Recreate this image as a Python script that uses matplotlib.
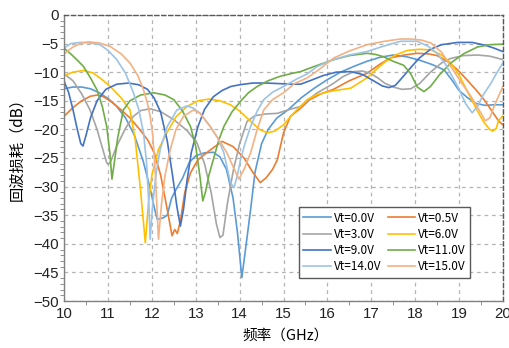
import matplotlib
matplotlib.use("Agg")
import matplotlib.pyplot as plt
from matplotlib.ticker import MultipleLocator

# return loss traces, frequency in GHz and S11 in dB
f_00 = [10.0, 10.2, 10.4, 10.6, 10.8, 11.0, 11.2, 11.4, 11.6, 11.8, 11.95, 12.05, 12.12, 12.25, 12.35, 12.45, 12.55, 12.7, 12.85, 13.0, 13.2, 13.4, 13.55, 13.7, 13.85, 13.95, 14.05, 14.15, 14.25, 14.35, 14.5, 14.65, 14.85, 15.1, 15.4, 15.7, 16.0, 16.3, 16.6, 16.9, 17.2, 17.5, 17.8, 18.1, 18.4, 18.66, 18.85, 19.0, 19.2, 19.4, 19.6, 19.8, 20.0]
s_00 = [-12.9, -12.6, -12.6, -12.9, -13.6, -14.6, -16.0, -18.0, -21.0, -25.5, -30, -33.5, -35.7, -35.5, -35.0, -32, -30.5, -28.5, -25.8, -24.6, -24.1, -24.0, -24.8, -27, -32, -38, -45.9, -40, -34, -27.5, -22.5, -20, -18, -16.6, -14.5, -12.8, -11.3, -10, -9, -8.1, -7.4, -7.0, -7.3, -7.9, -8.7, -9.6, -11.5, -13.2, -14.5, -15.5, -15.8, -15.7, -15.7]

f_05 = [10.0, 10.2, 10.4, 10.6, 10.75, 10.9, 11.1, 11.3, 11.5, 11.7, 11.9, 12.05, 12.2, 12.35, 12.46, 12.52, 12.58, 12.65, 12.75, 12.88, 13.05, 13.33, 13.6, 13.85, 14.1, 14.3, 14.47, 14.6, 14.75, 14.86, 15.0, 15.16, 15.39, 15.6, 15.85, 16.14, 16.5, 16.9, 17.2, 17.44, 17.75, 18.05, 18.3, 18.5, 18.75, 18.97, 19.2, 19.4, 19.57, 19.75, 19.9, 20.0]
s_05 = [-17.7, -16.2, -15.0, -14.2, -14.0, -14.3, -15.3, -16.6, -18.0, -19.8, -21.8, -24, -28, -34, -38.6, -37.5, -38.2, -36, -31, -27.6, -25.3, -23.6, -22.1, -23, -25, -27.5, -29.3, -28.5, -27, -25.3, -20.6, -17.7, -16.3, -14.8, -13.8, -13.0, -11.5, -10.2, -8.6, -7.5, -7.0, -6.7, -6.8, -7.1, -8.2, -9.6, -11.5, -13.2, -14.8, -16.8, -18.5, -19.2]

f_30 = [10.0, 10.2, 10.4, 10.59, 10.75, 10.9, 10.97, 11.0, 11.05, 11.2, 11.4, 11.58, 11.75, 11.96, 12.2, 12.5, 12.8, 13.03, 13.2, 13.35, 13.47, 13.55, 13.62, 13.72, 13.86, 14.0, 14.17, 14.35, 14.6, 14.86, 15.1, 15.39, 15.6, 15.77, 16.0, 16.15, 16.35, 16.6, 16.8, 16.98, 17.15, 17.3, 17.5, 17.7, 17.9, 18.1, 18.35, 18.6, 18.81, 19.1, 19.42, 19.7, 20.0]
s_30 = [-10.3, -11.5, -13.8, -16.6, -20, -24, -25.8, -26.1, -25.8, -22.9, -19.8, -17.7, -16.7, -16.4, -16.9, -18.3, -20.2, -22.4, -26, -31, -36.5, -38.9, -38.5, -33, -27, -22.5, -18.6, -17.6, -17.3, -17.2, -16.6, -16.0, -14.6, -13.6, -12.6, -11.9, -10.8, -9.9, -9.8, -10.2, -11, -11.9, -12.6, -13.0, -12.9, -12.0, -10.0, -8.4, -7.6, -7.1, -7.0, -7.2, -7.8]

f_60 = [10.0, 10.2, 10.44, 10.65, 10.85, 11.05, 11.3, 11.5, 11.62, 11.74, 11.85, 11.92, 12.0, 12.15, 12.34, 12.55, 12.8, 13.05, 13.3, 13.55, 13.79, 14.0, 14.25, 14.45, 14.63, 14.8, 15.0, 15.25, 15.54, 15.77, 16.1, 16.53, 16.9, 17.28, 17.55, 17.82, 18.1, 18.36, 18.6, 18.81, 19.0, 19.2, 19.4, 19.57, 19.7, 19.77, 19.85, 19.9, 20.0]
s_60 = [-10.6, -10.0, -9.7, -10.1, -11.2, -12.5, -14.5, -16.6, -21.8, -30.5, -39.8, -33, -28, -23.5, -20.6, -17.8, -16.0, -15.0, -14.7, -15.0, -15.7, -16.8, -18.6, -20.0, -20.6, -20.3, -19.2, -17, -14.8, -13.9, -13.3, -12.8, -11, -8.4, -7.0, -6.2, -6.0, -6.1, -7.0, -8.4, -10.5, -13.5, -16.5, -18.8, -20.0, -20.3, -19.8, -18.5, -17.6]

f_90 = [10.0, 10.1, 10.2, 10.3, 10.38, 10.43, 10.5, 10.6, 10.75, 10.95, 11.2, 11.47, 11.7, 11.9, 12.05, 12.2, 12.35, 12.47, 12.57, 12.65, 12.72, 12.8, 12.9, 13.05, 13.2, 13.4, 13.6, 13.8, 14.0, 14.3, 14.6, 14.9, 15.2, 15.39, 15.6, 15.9, 16.2, 16.53, 16.8, 17.05, 17.25, 17.4, 17.55, 17.7, 17.9, 18.1, 18.35, 18.6, 18.97, 19.3, 19.6, 19.8, 20.0]
s_90 = [-11.6, -13.5, -16.5, -20, -22.5, -22.9, -21, -18, -15, -13, -12.1, -11.9, -12.2, -13.0, -14.5, -17, -22, -28, -33.5, -36.9, -34, -29, -24, -19.5, -16.5, -14.3, -13.2, -12.5, -12.2, -11.9, -11.9, -12.0, -12.1, -12.1, -11.5, -10.6, -10.0, -9.9, -10.4, -11.5, -12.4, -12.7, -12.3, -11, -9.2, -7.5, -6.0, -5.2, -4.8, -4.8, -5.3, -5.8, -6.4]

f_110 = [10.0, 10.15, 10.3, 10.44, 10.6, 10.75, 10.87, 10.97, 11.04, 11.09, 11.14, 11.22, 11.35, 11.5, 11.74, 12.04, 12.3, 12.5, 12.7, 12.88, 13.0, 13.1, 13.16, 13.22, 13.3, 13.4, 13.52, 13.64, 13.82, 14.02, 14.2, 14.4, 14.65, 14.93, 15.2, 15.39, 15.7, 16.15, 16.5, 16.9, 17.1, 17.28, 17.5, 17.74, 17.9, 18.05, 18.2, 18.35, 18.55, 18.81, 19.1, 19.42, 19.7, 20.0]
s_110 = [-5.8, -6.8, -7.9, -9.0, -11, -13.1, -16, -19.5, -24, -28.7, -26, -21.5, -16.6, -15.0, -14.0, -13.6, -14.0, -14.8, -16.8, -19.5, -23, -28.5, -32.5, -31, -28, -25.3, -22, -19.5, -17, -15.1, -13.6, -12.5, -11.5, -10.7, -10.2, -9.9, -9.0, -7.8, -7.1, -6.7, -6.9, -7.3, -8.1, -8.8, -10.3, -12.6, -13.4, -12.5, -10.5, -8.4, -6.8, -5.6, -5.2, -5.1]

f_140 = [10.0, 10.15, 10.37, 10.6, 10.82, 11.0, 11.2, 11.4, 11.58, 11.7, 11.81, 11.88, 11.93, 11.96, 12.02, 12.1, 12.19, 12.35, 12.57, 12.8, 12.95, 13.1, 13.33, 13.5, 13.64, 13.79, 13.87, 13.95, 14.02, 14.12, 14.25, 14.4, 14.55, 14.75, 15.0, 15.3, 15.54, 15.77, 16.1, 16.5, 16.9, 17.3, 17.67, 18.05, 18.3, 18.5, 18.7, 18.97, 19.15, 19.3, 19.42, 19.55, 19.73, 19.87, 20.0]
s_140 = [-5.8, -5.0, -4.8, -4.9, -5.2, -6.2, -7.8, -10.2, -13.6, -16.5, -20.6, -26, -33, -39.2, -33, -27.5, -23.5, -19.5, -16.6, -15.9, -16.3, -17.2, -19.5, -21.5, -24.1, -29.3, -30.2, -28, -25.3, -22.5, -19.5, -16.8, -14.8, -13.5, -12.5, -11.2, -10.3, -9.0, -7.9, -7.0, -6.4, -5.4, -4.6, -4.6, -5.5, -6.7, -8.7, -12.5, -15.5, -17.1, -16.0, -14, -11.9, -10, -8.4]

f_150 = [10.0, 10.2, 10.4, 10.55, 10.8, 11.05, 11.3, 11.5, 11.68, 11.81, 11.9, 11.96, 12.02, 12.08, 12.15, 12.22, 12.3, 12.42, 12.55, 12.72, 12.95, 13.1, 13.33, 13.5, 13.71, 13.85, 13.98, 14.1, 14.25, 14.4, 14.55, 14.75, 15.0, 15.25, 15.54, 15.8, 16.15, 16.5, 16.9, 17.3, 17.67, 17.9, 18.15, 18.36, 18.6, 18.81, 19.05, 19.27, 19.45, 19.6, 19.7, 19.8, 19.9, 20.0]
s_150 = [-6.8, -5.6, -4.9, -4.7, -4.9, -5.5, -6.8, -8.4, -10.6, -13.1, -15.5, -17.7, -21, -28, -39.2, -33, -28, -23.5, -20, -17.7, -16.6, -17.2, -19.5, -21.5, -24.1, -26.5, -28.7, -27, -24.1, -20, -16.6, -14.8, -13.6, -12.0, -11.0, -9.6, -7.5, -6.3, -5.2, -4.6, -4.2, -4.2, -4.4, -4.9, -6.5, -9.0, -11.8, -14.2, -16.5, -18.5, -18, -16, -14.2, -12.5]

labels = ["Vt=0.0V", "Vt=0.5V", "Vt=3.0V", "Vt=6.0V",
          "Vt=9.0V", "Vt=11.0V", "Vt=14.0V", "Vt=15.0V"]
colors = ["#5B9BD5", "#ED7D31", "#A5A5A5", "#FFC000",
          "#4472C4", "#70AD47", "#9DC3E6", "#F4B183"]
freqs = [f_00, f_05, f_30, f_60, f_90, f_110, f_140, f_150]
s11 = [s_00, s_05, s_30, s_60, s_90, s_110, s_140, s_150]

plt.rcParams['font.family'] = ['Liberation Sans', 'Noto Sans CJK SC', 'DejaVu Sans']
cjk = ['Noto Sans CJK SC', 'DejaVu Sans']

fig = plt.figure(figsize=(5.09, 3.48), dpi=100)
ax = fig.add_axes([0.126, 0.135, 0.862, 0.822])

lines = []
for f, s, c, lab in zip(freqs, s11, colors, labels):
    ln, = ax.plot(f, s, color=c, lw=1.2, label=lab)
    lines.append(ln)

ax.set_xlim(10, 20)
ax.set_ylim(-50, 0)
ax.xaxis.set_major_locator(MultipleLocator(1))
ax.xaxis.set_minor_locator(MultipleLocator(0.5))
ax.yaxis.set_major_locator(MultipleLocator(5))
ax.yaxis.set_minor_locator(MultipleLocator(1))
ax.grid(True, which='major', color='#b4b4b4', linestyle=(0, (3, 3)), lw=0.9)
ax.tick_params(which='major', length=0, labelsize=10.8, pad=4, labelcolor='#222222')
ax.tick_params(which='minor', length=3, color='#808080', direction='out')

for side in ['left', 'bottom']:
    ax.spines[side].set_color('#808080')
    ax.spines[side].set_linewidth(1.0)
for side in ['top', 'right']:
    ax.spines[side].set_color('#595959')
    ax.spines[side].set_linestyle((0, (3, 2)))
    ax.spines[side].set_linewidth(1.0)

ax.set_xlabel('频率（GHz）', family=cjk, fontsize=10.5)
ax.xaxis.set_label_coords(0.505, -0.097)
ax.set_ylabel('回波损耗（dB）', family=cjk, fontsize=11)
ax.yaxis.set_label_coords(-0.088, 0.545)

# column-major fill so the rows read 0.0/0.5, 3.0/6.0 ...
order = [0, 2, 4, 6, 1, 3, 5, 7]
leg = ax.legend([lines[i] for i in order], [labels[i] for i in order],
                ncol=2, loc='lower left', bbox_to_anchor=(0.536, 0.082),
                borderaxespad=0, fancybox=False, framealpha=1,
                edgecolor='#595959', prop={'family': cjk, 'size': 8.5},
                handlelength=2.3, handletextpad=0.3, columnspacing=0.5,
                labelspacing=0.28, borderpad=0.35)
leg.get_frame().set_linewidth(1.0)

fig.savefig('out.png', dpi=100)
